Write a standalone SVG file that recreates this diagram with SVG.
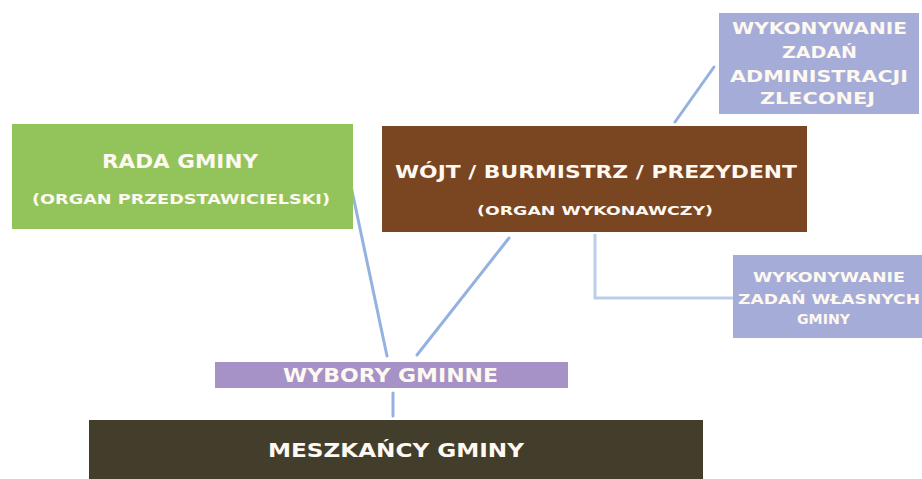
<svg xmlns="http://www.w3.org/2000/svg" width="922" height="479" viewBox="0 0 922 479">
<style>
  text { font-family: "DejaVu Sans", "Liberation Sans", Arial, sans-serif; font-weight: bold; fill: #fdf8f0; text-anchor: start; }
  .conn { stroke: #94b2e0; stroke-width: 3; fill: none; stroke-linecap: round; }
  .conn2 { stroke: #bccdea; stroke-width: 3; fill: none; }
</style>
<rect width="922" height="479" fill="#ffffff"/>
<g id="connectors">
  <line class="conn" x1="351" y1="186" x2="387" y2="356"/>
  <line class="conn" x1="509" y1="238" x2="417" y2="355"/>
  <line class="conn" x1="393" y1="393" x2="393" y2="416"/>
  <line class="conn" x1="714" y1="67" x2="675" y2="122"/>
  <polyline class="conn2" points="595,234 595,298 733,298"/>
</g>
<g id="rada">
  <rect x="12" y="124" width="341" height="105" fill="#93c45c"/>
  <text x="102" y="168" font-size="19" textLength="156" lengthAdjust="spacingAndGlyphs">RADA GMINY</text>
  <text x="32" y="204" font-size="14" textLength="298" lengthAdjust="spacingAndGlyphs">(ORGAN PRZEDSTAWICIELSKI)</text>
</g>
<g id="wojt">
  <rect x="382" y="126" width="425" height="106" fill="#7a4521"/>
  <text x="395" y="178" font-size="18" textLength="402" lengthAdjust="spacingAndGlyphs">WÓJT / BURMISTRZ / PREZYDENT</text>
  <text x="477" y="215" font-size="13" textLength="236" lengthAdjust="spacingAndGlyphs">(ORGAN WYKONAWCZY)</text>
</g>
<g id="zlecone">
  <rect x="719" y="13" width="200" height="101" fill="#a5acd8"/>
  <text x="732" y="34" font-size="16" textLength="175" lengthAdjust="spacingAndGlyphs">WYKONYWANIE</text>
  <text x="782" y="58" font-size="16" textLength="75" lengthAdjust="spacingAndGlyphs">ZADAŃ</text>
  <text x="730" y="82" font-size="16" textLength="178" lengthAdjust="spacingAndGlyphs">ADMINISTRACJI</text>
  <text x="760" y="104" font-size="16" textLength="115" lengthAdjust="spacingAndGlyphs">ZLECONEJ</text>
</g>
<g id="wlasne">
  <rect x="733" y="255" width="189" height="83" fill="#a5acd8"/>
  <text x="753" y="282" font-size="14" textLength="152" lengthAdjust="spacingAndGlyphs">WYKONYWANIE</text>
  <text x="738" y="304" font-size="14" textLength="182" lengthAdjust="spacingAndGlyphs">ZADAŃ WŁASNYCH</text>
  <text x="797" y="324" font-size="14" textLength="53" lengthAdjust="spacingAndGlyphs">GMINY</text>
</g>
<g id="wybory">
  <rect x="215" y="362" width="353" height="26" fill="#a692c6"/>
  <text x="283" y="382" font-size="20" textLength="215" lengthAdjust="spacingAndGlyphs">WYBORY GMINNE</text>
</g>
<g id="mieszkancy">
  <rect x="89" y="420" width="614" height="59" fill="#423e2b"/>
  <text x="268" y="457" font-size="19" textLength="256" lengthAdjust="spacingAndGlyphs">MESZKAŃCY GMINY</text>
</g>
</svg>
